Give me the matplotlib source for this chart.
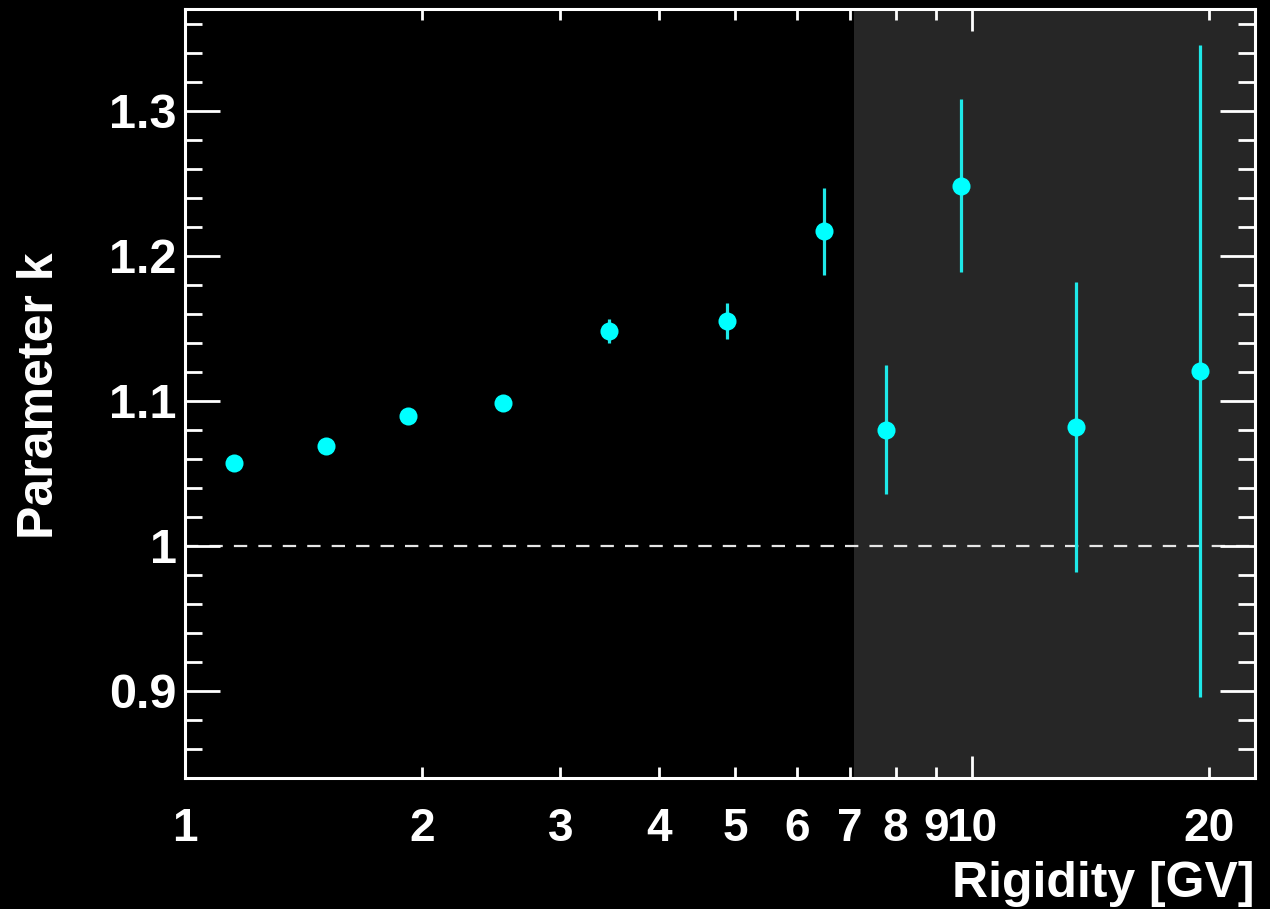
import numpy as np
import matplotlib.pyplot as plt
import matplotlib.ticker as mticker

plt.rcParams['font.family'] = ['Liberation Sans', 'DejaVu Sans']
plt.rcParams['font.weight'] = 'bold'

# Data
rigidity = [1.154, 1.511, 1.920, 2.536, 3.457, 4.884, 6.486, 7.777, 9.684, 13.56, 19.50]
k_value = [1.0570, 1.0692, 1.0899, 1.0984, 1.1481, 1.1554, 1.2170, 1.0802, 1.2485, 1.0823, 1.1207]
k_err = [0.003, 0.003, 0.003, 0.003, 0.0083, 0.0125, 0.0298, 0.0446, 0.0595, 0.100, 0.225]

band_start = 7.08
x_range = (1.0, 22.9)
y_range = (0.84, 1.3703)

fig = plt.figure(figsize=(12.7, 9.09), dpi=100)
fig.patch.set_facecolor('black')
ax = fig.add_axes([185 / 1270, 131 / 909, 1070 / 1270, 769 / 909])
ax.set_facecolor('black')

# grey band for the high rigidity region
ax.axvspan(band_start, x_range[1], color='#262626', zorder=0, lw=0)

# reference line at k = 1
ax.axhline(1.0, color='#e6e6e6', lw=1.6, ls=(0, (6, 5)), zorder=1)

ax.errorbar(rigidity, k_value, yerr=k_err, fmt='o', color='#00ffff',
            ecolor='#1ee8e8', elinewidth=2.3, capsize=0, markersize=13,
            markeredgewidth=0, zorder=3)

ax.set_xscale('log')
ax.set_xlim(*x_range)
ax.set_ylim(*y_range)

# x ticks: decades long, the rest short, all labelled
ax.xaxis.set_major_locator(mticker.FixedLocator([1, 10]))
ax.xaxis.set_minor_locator(mticker.FixedLocator([2, 3, 4, 5, 6, 7, 8, 9, 20]))
fmt = mticker.FuncFormatter(lambda v, pos: '%g' % v)
ax.xaxis.set_major_formatter(fmt)
ax.xaxis.set_minor_formatter(fmt)

ax.yaxis.set_major_locator(mticker.MultipleLocator(0.1))
ax.yaxis.set_minor_locator(mticker.MultipleLocator(0.02))
ax.yaxis.set_major_formatter(mticker.FuncFormatter(lambda v, pos: '%g' % round(v, 3)))

ax.tick_params(axis='x', which='both', direction='in', top=True, bottom=True,
               colors='white', labelsize=33, pad=21, width=2)
ax.tick_params(axis='x', which='major', length=16)
ax.tick_params(axis='x', which='minor', length=8)
ax.tick_params(axis='y', which='both', direction='in', left=True, right=True,
               colors='white', labelsize=35, pad=6, width=2)
ax.tick_params(axis='y', which='major', length=25)
ax.tick_params(axis='y', which='minor', length=12.5)

for lab in ax.get_xticklabels(which='both') + ax.get_yticklabels():
    lab.set_fontweight('bold')

for sp in ax.spines.values():
    sp.set_color('white')
    sp.set_linewidth(2.2)

fig.text(1255 / 1270, 1 - 897 / 909, 'Rigidity [GV]', color='white', fontsize=36,
         fontweight='bold', ha='right', va='baseline')
fig.text(40 / 1270, 1 - 396 / 909, 'Parameter k', color='white', fontsize=36,
         fontweight='bold', ha='center', va='center', rotation=90)

fig.savefig('out.png', dpi=100, facecolor='black')
